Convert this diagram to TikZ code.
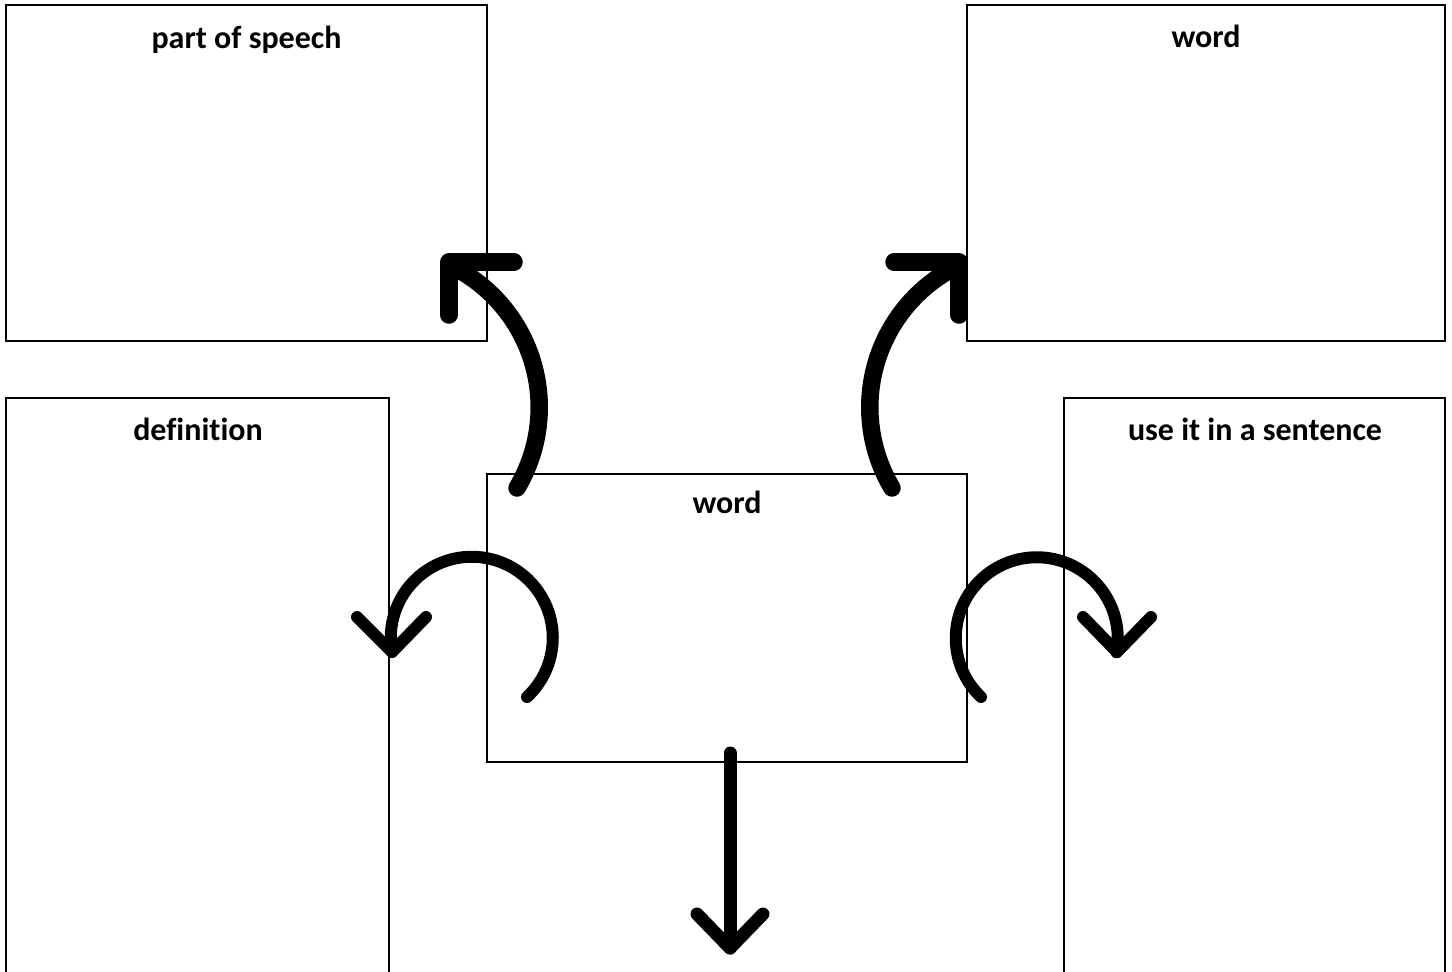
\documentclass[tikz,border=0pt]{standalone}
\usepackage{fontspec}
\setmainfont{Carlito}[Ligatures=CommonOff]
\begin{document}
\begin{tikzpicture}[x=1pt,y=-1pt,
  box/.style={draw=black,line width=2.5pt,rectangle,anchor=north west,inner sep=0pt,outer sep=0pt},
  lbl/.style={anchor=base,inner sep=0pt,font=\fontsize{32}{38}\selectfont\bfseries},
  bigarrow/.style={draw=black,line width=17.5pt,line cap=round,line join=round},
  looparrow/.style={draw=black,line width=12pt,line cap=round,line join=round},
  downarrow/.style={draw=black,line width=13pt,line cap=round,line join=round}]
\clip (0,0) rectangle (1452,972);
\fill[white] (0,0) rectangle (1452,972);
% boxes
\node[box,minimum width=481pt,minimum height=336pt] (tl) at (6,5) {};
\node[box,minimum width=478pt,minimum height=336pt] (tr) at (967,5) {};
\node[box,minimum width=383pt,minimum height=600pt] (bl) at (6,398) {};
\node[box,minimum width=381pt,minimum height=600pt] (br) at (1064,398) {};
\node[box,minimum width=480pt,minimum height=288pt] (c) at (487,474) {};
% labels
\node[lbl] (ltl) at (246.5,48) {part of speech};
\node[lbl] (ltr) at (1206,47) {word};
\node[lbl] (lbl) at (198,440) {definition};
\node[lbl] (lbr) at (1255,440) {use it in a sentence};
\node[lbl] (lc) at (727,513) {word};
% arrow coordinates
\coordinate (a1s) at (517,488);
\coordinate (a1t) at (449,262);
\coordinate (a1h) at (514,262);
\coordinate (a1v) at (449,315);
\coordinate (a2s) at (892,488);
\coordinate (a2t) at (959,262);
\coordinate (a2h) at (894,262);
\coordinate (a2v) at (959,315);
\coordinate (a3s) at (527,697);
\coordinate (a3t) at (392,652);
\coordinate (a3l) at (357,617);
\coordinate (a3r) at (426,617);
\coordinate (a4s) at (981,697);
\coordinate (a4t) at (1117,652);
\coordinate (a4l) at (1083,617);
\coordinate (a4r) at (1151,617);
\coordinate (a5s) at (730,753);
\coordinate (a5t) at (730,948);
\coordinate (a5l) at (697,914);
\coordinate (a5r) at (763,914);
% arrows
\draw[bigarrow] (a1s) arc[start angle=30.8,end angle=-62.2,radius=157.6];
\draw[bigarrow] (a1h) -- (a1t) -- (a1v);
\draw[bigarrow] (a2s) arc[start angle=149.2,end angle=242.2,radius=157.6];
\draw[bigarrow] (a2h) -- (a2t) -- (a2v);
\draw[looparrow] (a3s) arc[start angle=47,end angle=-190,radius=81];
\draw[looparrow] (a3l) -- (a3t) -- (a3r);
\draw[looparrow] (a4s) arc[start angle=133.5,end angle=370,radius=81];
\draw[looparrow] (a4l) -- (a4t) -- (a4r);
\draw[downarrow] (a5s) -- (a5t);
\draw[downarrow] (a5l) -- (a5t) -- (a5r);
\end{tikzpicture}
\end{document}
